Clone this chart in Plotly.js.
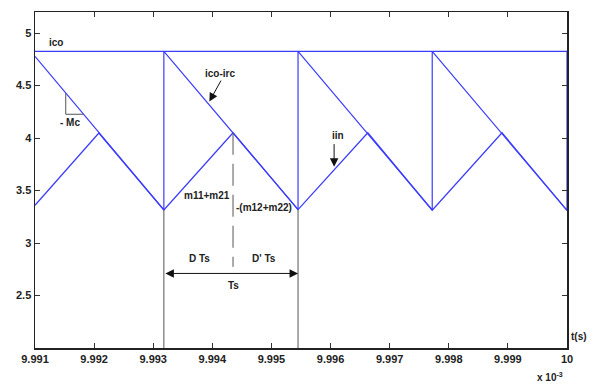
<!DOCTYPE html>
<html>
<head>
<meta charset="utf-8">
<script src="https://cdn.plot.ly/plotly-3.0.1.min.js"></script>
<style>html,body{margin:0;padding:0;background:#fff;}#chart{width:600px;height:392px;}</style>
</head>
<body>
<div id="chart"></div>
<script>
// time axis values (x 10^-3 s)
const xTicks = [9.991, 9.992, 9.993, 9.994, 9.995, 9.996, 9.997, 9.998, 9.999, 10];
const xTickLabels = ['9.991', '9.992', '9.993', '9.994', '9.995', '9.996', '9.997', '9.998', '9.999', '10'];
const yTicks = [2.5, 3, 3.5, 4, 4.5, 5];
const yTickLabels = ['2.5', '3', '3.5', '4', '4.5', '5'];

// ico (constant peak reference)
const icoX = [9.991, 10];
const icoY = [4.825, 4.825];

// ico - irc (compensated ramp)
const ircX = [9.991, 9.99318, 9.99318, 9.99545, 9.99545, 9.99772, 9.99772, 10.0, 10.0];
const ircY = [4.777, 3.315, 4.825, 3.318, 4.825, 3.313, 4.825, 3.31, 4.825];

// iin (inductor current)
const iinX = [9.991, 9.99208, 9.99318, 9.99435, 9.99545, 9.99663, 9.99772, 9.9989, 10.0];
const iinY = [3.36, 4.048, 3.315, 4.05, 3.318, 4.05, 3.313, 4.05, 3.31];

const blue = 'rgb(60,60,255)';
const traces = [
  {x: icoX, y: icoY, mode: 'lines', line: {color: blue, width: 1.2}, hoverinfo: 'skip', showlegend: false},
  {x: ircX, y: ircY, mode: 'lines', line: {color: blue, width: 1.2}, hoverinfo: 'skip', showlegend: false},
  {x: iinX, y: iinY, mode: 'lines', line: {color: blue, width: 1.3}, hoverinfo: 'skip', showlegend: false}
];

const gray = '#555';
const shapes = [
  {type: 'line', xref: 'x', yref: 'y', x0: 9.99318, x1: 9.99318, y0: 3.315, y1: 2.0, line: {color: gray, width: 1}},
  {type: 'line', xref: 'x', yref: 'y', x0: 9.99545, x1: 9.99545, y0: 3.318, y1: 2.0, line: {color: gray, width: 1}},
  {type: 'line', xref: 'x', yref: 'y', x0: 9.99435, x1: 9.99435, y0: 4.05, y1: 2.773, line: {color: gray, width: 1, dash: '22px,9px'}},
  {type: 'line', xref: 'x', yref: 'y', x0: 9.99152, x1: 9.99152, y0: 4.425, y1: 4.226, line: {color: gray, width: 1}},
  {type: 'line', xref: 'x', yref: 'y', x0: 9.99152, x1: 9.99182, y0: 4.226, y1: 4.226, line: {color: gray, width: 1}}
];

const tf = {family: 'Liberation Sans, Arial, sans-serif', size: 10, color: '#222', weight: 'bold'};
function txt(x, y, t) {
  return {x: x, y: y, xref: 'x', yref: 'y', text: t, showarrow: false, font: tf, xanchor: 'center', yanchor: 'middle'};
}
const annotations = [
  txt(9.99136, 4.91, 'ico'),
  txt(9.99413, 4.618, 'ico-irc'),
  txt(9.99159, 4.147, '- Mc'),
  txt(9.996124, 4.023, 'iin'),
  txt(9.99391, 3.457, 'm11+m21'),
  txt(9.99488, 3.339, '-(m12+m22)'),
  txt(9.99379, 2.853, 'D Ts'),
  txt(9.99488, 2.853, "D' Ts"),
  txt(9.99436, 2.598, 'Ts'),
  {x: 9.99395, y: 4.347, ax: 9.99416, ay: 4.561, xref: 'x', yref: 'y', axref: 'x', ayref: 'y', text: '', showarrow: true, arrowhead: 2, arrowsize: 1.7, arrowwidth: 1, arrowcolor: '#111', standoff: 0},
  {x: 9.99606, y: 3.727, ax: 9.99606, ay: 3.956, xref: 'x', yref: 'y', axref: 'x', ayref: 'y', text: '', showarrow: true, arrowhead: 2, arrowsize: 1.7, arrowwidth: 1, arrowcolor: '#111', standoff: 0},
  {x: 9.99545, y: 2.71, ax: 9.99318, ay: 2.71, xref: 'x', yref: 'y', axref: 'x', ayref: 'y', text: '', showarrow: true, arrowside: 'end+start', arrowhead: 2, startarrowhead: 2, arrowsize: 1.7, startarrowsize: 1.7, arrowwidth: 1, arrowcolor: '#111', standoff: 0, startstandoff: 0},
  {x: 1.0226, y: 0.035, xref: 'paper', yref: 'paper', text: 't(s)', showarrow: false, font: tf, xanchor: 'center', yanchor: 'middle'},
  {x: 0.9686, y: -0.0865, xref: 'paper', yref: 'paper', text: 'x 10<sup>-3</sup>', showarrow: false, font: tf, xanchor: 'center', yanchor: 'middle'}
];

const tickFont = {family: 'Liberation Sans, Arial, sans-serif', size: 11, color: '#222', weight: 'bold'};
const layout = {
  width: 600, height: 392,
  margin: {l: 35, r: 33, t: 12, b: 44},
  paper_bgcolor: '#fff', plot_bgcolor: '#fff',
  showlegend: false,
  xaxis: {range: [9.991, 10], tickvals: xTicks, ticktext: xTickLabels, ticks: 'inside', ticklen: 5, tickcolor: '#333', tickwidth: 1,
          showline: true, linecolor: '#222', linewidth: 1.5, mirror: 'ticks', showgrid: false, zeroline: false, tickfont: tickFont},
  yaxis: {range: [2.0, 5.2], tickvals: yTicks, ticktext: yTickLabels, ticks: 'inside', ticklen: 5, tickcolor: '#333', tickwidth: 1,
          showline: true, linecolor: '#222', linewidth: 1.5, mirror: 'ticks', showgrid: false, zeroline: false, tickfont: tickFont},
  shapes: shapes,
  annotations: annotations
};
Plotly.newPlot('chart', traces, layout, {staticPlot: true, displayModeBar: false});
</script>
</body>
</html>
